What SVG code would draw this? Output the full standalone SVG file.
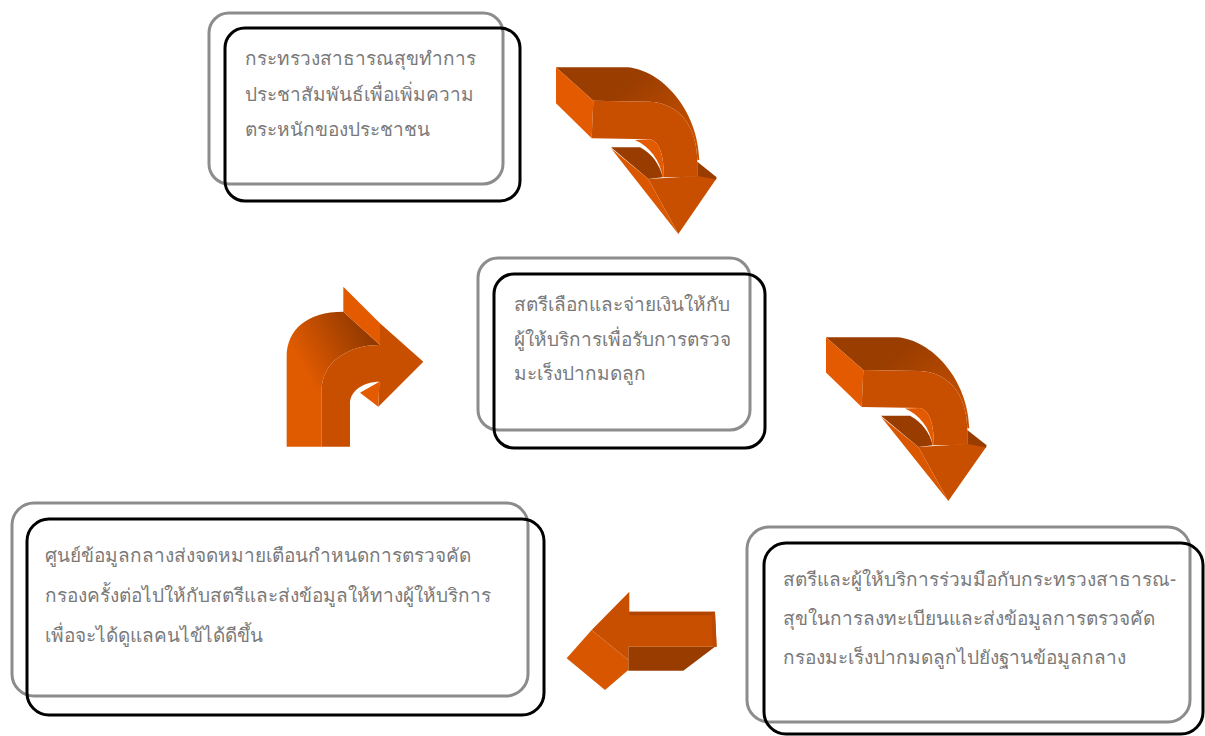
<svg xmlns="http://www.w3.org/2000/svg" width="1205" height="736" viewBox="0 0 1205 736">
<defs>
 <linearGradient id="g1" gradientUnits="userSpaceOnUse" x1="300" y1="40" x2="470" y2="240">
  <stop offset="0" stop-color="#9A3D00"/><stop offset="1" stop-color="#C85000"/>
 </linearGradient>
 <linearGradient id="g3" gradientUnits="userSpaceOnUse" x1="70" y1="260" x2="270" y2="150">
  <stop offset="0" stop-color="#E05A00"/><stop offset="1" stop-color="#8F3800"/>
 </linearGradient>
 <g id="bent">
  <path fill="url(#g1)" d="M48,22 L262,22 C365,30 474,150 478,300 L472,300 C470,200 420,130 330,125 L160,122 Z"/>
  <polygon class="lt" points="48,22 160,122 155,235 48,130"/>
  <path class="md" d="M160,122 L330,125 C420,130 470,200 472,300 L472,350 L372,352 C372,290 360,245 330,238 L155,235 Z"/>
  <path class="dk" d="M213,262 L300,262 C335,280 360,315 368,352 L325,357 Z"/>
  <path class="lt" d="M285,240 L330,238 C360,245 372,290 372,352 L368,352 C360,300 330,260 285,240 Z"/>
  <polygon class="dk" points="472,305 530,352 528,360 472,350"/>
  <polygon class="md" points="325,357 472,348 528,358 415,522"/>
  <polygon fill="#DA5700" points="213,265 325,357 415,522"/>
 </g>
</defs>
<style>
 .bg{fill:none;stroke:#8c8c8c;stroke-width:3}
 .bk{fill:none;stroke:#000;stroke-width:3}
 .t{font-family:'Noto Sans',sans-serif;fill:#7a7a7a;font-size:19px}
 .lt{fill:#E45A00}
 .md{fill:#C94F00}
 .dk{fill:#993C00}
</style>
<g id="connectors">
 <use id="arrow1" href="#bent" transform="translate(540,60) scale(0.3333)"/>
 <use id="arrow2" href="#bent" transform="translate(810,330) scale(0.3333,0.3275)"/>
 <g id="arrow3" transform="translate(280,280) scale(0.3333)">
  <path fill="url(#g3)" d="M20,500 L20,230 C20,150 80,95 190,95 L300,195 C200,195 125,250 125,330 L125,500 Z"/>
  <polygon class="lt" points="190,20 300,130 300,195 190,95"/>
  <path class="md" d="M125,500 L125,330 C125,250 200,195 300,195 L300,130 L430,245 L295,380 L298,305 C255,305 210,330 210,370 L210,500 Z"/>
  <polygon class="lt" points="240,338 298,305 295,380"/>
 </g>
 <g id="arrow4" transform="translate(560,580) scale(0.3333)">
  <polygon class="dk" points="205,200 465,200 370,272 205,272"/>
  <polygon class="md" points="208,35 208,95 465,95 470,200 205,200 205,240 95,150"/>
  <polygon fill="#B04400" points="208,95 465,95 465,106 208,106"/>
  <polygon fill="#BC4A00" points="455,100 465,95 470,200 458,200"/>
  <polygon fill="#D85600" points="20,235 95,150 205,240 205,270 135,330"/>
 </g>
</g>
<g id="node1">
 <rect class="bg" x="209" y="13" width="294" height="171" rx="20"/>
 <rect class="bk" x="225" y="28" width="295" height="173" rx="20"/>
 <text class="t" x="245" y="65">กระทรวงสาธารณสุขทำการ</text>
 <text class="t" x="245" y="101">ประชาสัมพันธ์เพื่อเพิ่มความ</text>
 <text class="t" x="245" y="136">ตระหนักของประชาชน</text>
</g>
<g id="node2">
 <rect class="bg" x="478" y="258" width="272" height="172" rx="20"/>
 <rect class="bk" x="494" y="274" width="271" height="174" rx="20"/>
 <text class="t" x="514" y="311">สตรีเลือกและจ่ายเงินให้กับ</text>
 <text class="t" x="514" y="346">ผู้ให้บริการเพื่อรับการตรวจ</text>
 <text class="t" x="514" y="380">มะเร็งปากมดลูก</text>
</g>
<g id="node3">
 <rect class="bg" x="12" y="503" width="516" height="193" rx="22"/>
 <rect class="bk" x="27" y="519" width="517" height="196" rx="22"/>
 <text class="t" x="45" y="562">ศูนย์ข้อมูลกลางส่งจดหมายเตือนกำหนดการตรวจคัด</text>
 <text class="t" x="45" y="602">กรองครั้งต่อไปให้กับสตรีและส่งข้อมูลให้ทางผู้ให้บริการ</text>
 <text class="t" x="45" y="642">เพื่อจะได้ดูแลคนไข้ได้ดีขึ้น</text>
</g>
<g id="node4">
 <rect class="bg" x="747" y="527" width="443" height="195" rx="22"/>
 <rect class="bk" x="764" y="543" width="439" height="191" rx="22"/>
 <text class="t" x="783" y="586">สตรีและผู้ให้บริการร่วมมือกับกระทรวงสาธารณ-</text>
 <text class="t" x="783" y="625">สุขในการลงทะเบียนและส่งข้อมูลการตรวจคัด</text>
 <text class="t" x="783" y="664">กรองมะเร็งปากมดลูกไปยังฐานข้อมูลกลาง</text>
</g>
</svg>
